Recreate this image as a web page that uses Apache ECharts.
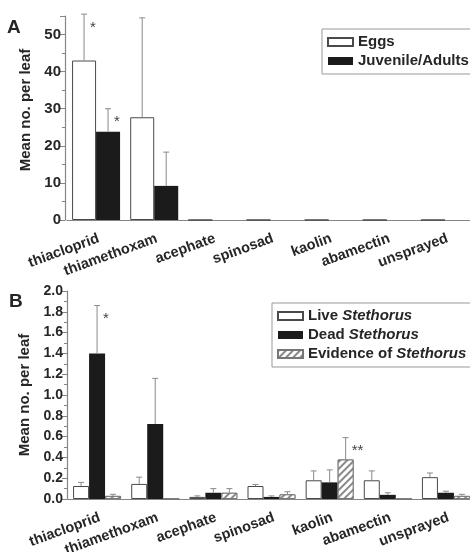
<!DOCTYPE html>
<html>
<head>
<meta charset="utf-8">
<script src="https://cdn.jsdelivr.net/npm/echarts@6/dist/echarts.min.js"></script>
<style>
html,body{margin:0;padding:0;background:#fff;}
#c{width:470px;height:552px;}
</style>
</head>
<body>
<div id="c"></div>
<script>
// ---------- data ----------
const categories = ['thiacloprid', 'thiamethoxam', 'acephate', 'spinosad', 'kaolin', 'abamectin', 'unsprayed'];

// Panel A
const eggsMean = [43.0, 27.7, 0, 0, 0, 0, 0];
const eggsSE   = [12.5, 26.8, 0, 0, 0, 0, 0];
const juvMean  = [23.8, 9.2, 0, 0, 0, 0, 0];
const juvSE    = [6.2, 9.1, 0, 0, 0, 0, 0];
const eggsStars = ['*', '', '', '', '', '', ''];
const juvStars  = ['*', '', '', '', '', '', ''];

// Panel B
const liveMean = [0.125, 0.145, 0.02, 0.125, 0.18, 0.18, 0.21];
const liveSE   = [0.035, 0.065, 0.01, 0.015, 0.09, 0.09, 0.04];
const deadMean = [1.40, 0.72, 0.06, 0.02, 0.16, 0.04, 0.06];
const deadSE   = [0.46, 0.44, 0.04, 0.01, 0.12, 0.02, 0.015];
const evidMean = [0.03, 0, 0.06, 0.045, 0.38, 0, 0.03];
const evidSE   = [0.015, 0, 0.04, 0.025, 0.21, 0, 0.015];
const liveStars = ['', '', '', '', '', '', ''];
const deadStars = ['*', '', '', '', '', '', ''];
const evidStars = ['', '', '', '', '**', '', ''];

const yTitle = 'Mean no. per leaf';

// ---------- chart ----------
const FONT = 'Liberation Sans, Arial, sans-serif';
const TXT = '#262626';
const AX = '#858585';
const chart = echarts.init(document.getElementById('c'), null, {renderer: 'canvas'});

function errSeries(axis, mean, se, stars, offset) {
  return {
    type: 'custom',
    xAxisIndex: axis, yAxisIndex: axis,
    silent: true, z: 5,
    data: mean.map((m, i) => [i, m, m + se[i]]),
    renderItem: function (params, api) {
      const i = api.value(0);
      const base = api.coord([i, api.value(1)]);
      const top = api.coord([i, api.value(2)]);
      const x = base[0] + offset;
      const children = [];
      if (api.value(2) > api.value(1)) {
        children.push({type: 'line', shape: {x1: x, y1: base[1], x2: x, y2: top[1]}, style: {stroke: '#8a8a8a', lineWidth: 1}});
        children.push({type: 'line', shape: {x1: x - 3, y1: top[1], x2: x + 3, y2: top[1]}, style: {stroke: '#8a8a8a', lineWidth: 1}});
      }
      const s = stars[params.dataIndex];
      if (s) {
        children.push({type: 'text', style: {text: s, x: x + 6, y: top[1] + 6, align: 'left', verticalAlign: 'top', fontSize: 15, fontFamily: FONT, fill: '#444'}});
      }
      return {type: 'group', children: children};
    }
  };
}

function xAxisDef(idx) {
  return {
    gridIndex: idx, type: 'category', data: categories,
    axisLine: {lineStyle: {color: AX, width: 1.2}},
    axisTick: {alignWithLabel: true, length: 4, lineStyle: {color: AX}},
    axisLabel: {rotate: 20, interval: 0, margin: 11, verticalAlign: 'top', fontSize: 14.5, fontWeight: 'bold', color: TXT, fontFamily: FONT},
    splitLine: {show: false}
  };
}

const legendBase = {
  orient: 'vertical', padding: [5, 6, 5, 5], itemGap: 3, itemWidth: 25, itemHeight: 8, icon: 'rect',
  borderColor: '#999', borderWidth: 1, borderRadius: 0, backgroundColor: '#fff',
  textStyle: {fontSize: 15, fontWeight: 'bold', color: TXT, fontFamily: FONT, lineHeight: 16,
    rich: {i: {fontSize: 15, fontWeight: 'bold', fontStyle: 'italic', color: TXT, fontFamily: FONT, lineHeight: 16}}},
  formatter: function (n) { return n.replace('Stethorus', '{i|Stethorus}'); },
  selectedMode: false
};

const hatch = {
  symbol: 'rect', symbolSize: 1, color: '#8a8a8a', backgroundColor: '#fff',
  dashArrayX: [1, 0], dashArrayY: [1.3, 2.7], rotation: -Math.PI / 4
};

const option = {
  animation: false,
  backgroundColor: '#fff',
  title: [
    {text: 'A', left: 7, top: 18, padding: 0, textStyle: {fontSize: 19, fontWeight: 'bold', color: TXT, fontFamily: FONT}},
    {text: 'B', left: 9, top: 292, padding: 0, textStyle: {fontSize: 19, fontWeight: 'bold', color: TXT, fontFamily: FONT}}
  ],
  legend: [
    Object.assign({}, legendBase, {left: 322, top: 29, data: ['Eggs', 'Juvenile/Adults']}),
    Object.assign({}, legendBase, {left: 272, top: 303, data: ['Live Stethorus', 'Dead Stethorus', 'Evidence of Stethorus']})
  ],
  grid: [
    {left: 67, right: -4, top: 16, bottom: 332, outerBoundsMode: 'none', containLabel: false},
    {left: 68, right: -5, top: 291, bottom: 53, outerBoundsMode: 'none', containLabel: false}
  ],
  xAxis: [xAxisDef(0), xAxisDef(1)],
  yAxis: [
    {
      gridIndex: 0, type: 'value', min: 0, max: 55, interval: 10, offset: 2,
      axisLine: {show: true, lineStyle: {color: AX, width: 1.2}},
      axisTick: {show: true, length: 5, lineStyle: {color: AX}},
      minorTick: {show: true, splitNumber: 2, length: 3, lineStyle: {color: AX}},
      splitLine: {show: false},
      axisLabel: {fontSize: 15, fontWeight: 'bold', color: TXT, fontFamily: FONT, margin: 4,
        formatter: v => (v % 10 === 0 ? String(v) : '')},
      name: yTitle, nameLocation: 'middle', nameGap: 24,
      nameTextStyle: {fontSize: 15, fontWeight: 'bold', color: TXT, fontFamily: FONT, padding: [0, 0, 0, 16]}
    },
    {
      gridIndex: 1, type: 'value', min: 0, max: 2, interval: 0.2, offset: 1,
      axisLine: {show: true, lineStyle: {color: AX, width: 1.2}},
      axisTick: {show: true, length: 5, lineStyle: {color: AX}},
      minorTick: {show: true, splitNumber: 2, length: 3, lineStyle: {color: AX}},
      splitLine: {show: false},
      axisLabel: {fontSize: 14, fontWeight: 'bold', color: TXT, fontFamily: FONT, margin: 4,
        formatter: v => v.toFixed(1)},
      name: yTitle, nameLocation: 'middle', nameGap: 27,
      nameTextStyle: {fontSize: 15, fontWeight: 'bold', color: TXT, fontFamily: FONT}
    }
  ],
  series: [
    {name: 'Eggs', type: 'bar', xAxisIndex: 0, yAxisIndex: 0, data: eggsMean, barWidth: 24, barGap: '0%',
      itemStyle: {color: '#fff', borderColor: '#4a4a4a', borderWidth: 1}},
    {name: 'Juvenile/Adults', type: 'bar', xAxisIndex: 0, yAxisIndex: 0, data: juvMean, barWidth: 24, barGap: '0%',
      itemStyle: {color: '#1b1b1b', borderWidth: 0}},
    errSeries(0, eggsMean, eggsSE, eggsStars, -12),
    errSeries(0, juvMean, juvSE, juvStars, 12),

    {name: 'Live Stethorus', type: 'bar', xAxisIndex: 1, yAxisIndex: 1, data: liveMean, barWidth: 16, barGap: '0%',
      itemStyle: {color: '#fff', borderColor: '#4a4a4a', borderWidth: 1}},
    {name: 'Dead Stethorus', type: 'bar', xAxisIndex: 1, yAxisIndex: 1, data: deadMean, barWidth: 16, barGap: '0%',
      itemStyle: {color: '#1b1b1b', borderWidth: 0}},
    {name: 'Evidence of Stethorus', type: 'bar', xAxisIndex: 1, yAxisIndex: 1, data: evidMean, barWidth: 16, barGap: '0%',
      itemStyle: {color: '#fff', borderColor: '#777', borderWidth: 1, decal: hatch}},
    errSeries(1, liveMean, liveSE, liveStars, -16),
    errSeries(1, deadMean, deadSE, deadStars, 0),
    errSeries(1, evidMean, evidSE, evidStars, 16)
  ]
};
chart.setOption(option);
</script>
</body>
</html>
